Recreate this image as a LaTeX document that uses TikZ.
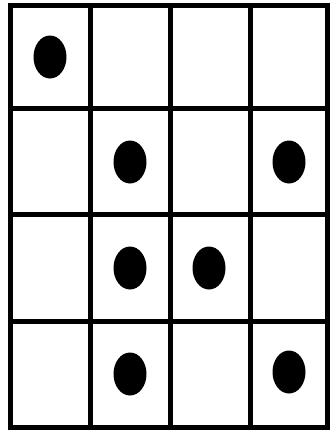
\documentclass[tikz,border=0pt]{standalone}
\usetikzlibrary{shapes.geometric}
\tikzset{
  gridline/.style={line width=5pt, black, line cap=rect},
  dot/.style={ellipse, fill=black, inner sep=0pt, minimum width=33pt, minimum height=43pt}
}
\begin{document}
\begin{tikzpicture}[x=1pt,y=-1pt]
\useasboundingbox (0,0) rectangle (330,432);
\fill[white] (0,0) rectangle (330,432);
% grid
\foreach \x in {10,90,170,250,327} \draw[gridline] (\x,5) -- (\x,427);
\foreach \y in {5,108,214,321,427} \draw[gridline] (10,\y) -- (327,\y);
% dots
\node[dot] (d11) at (50,57) {};
\node[dot] (d22) at (130,162) {};
\node[dot] (d24) at (289,162) {};
\node[dot] (d32) at (130,268) {};
\node[dot] (d33) at (209,268) {};
\node[dot] (d42) at (130,374) {};
\node[dot] (d44) at (289,372) {};
\end{tikzpicture}
\end{document}
